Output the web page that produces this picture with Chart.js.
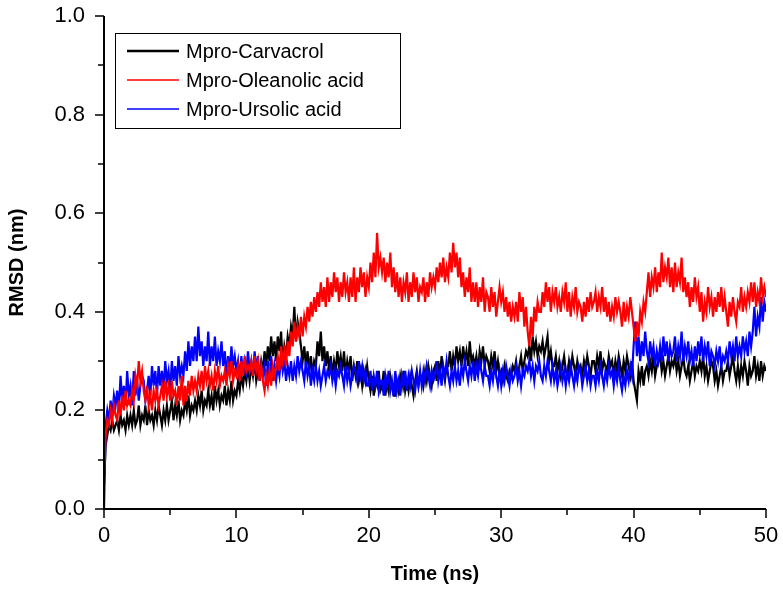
<!DOCTYPE html>
<html>
<head>
<meta charset="utf-8">
<script src="https://cdn.jsdelivr.net/npm/chart.js@4/dist/chart.umd.min.js"></script>
<style>
  html,body{margin:0;padding:0;background:#fff;}
  #wrap{width:783px;height:592px;position:relative;}
</style>
</head>
<body>
<div id="wrap"><canvas id="c" width="783" height="592"></canvas></div>
<script>
// Time step between samples (ns); samples start at 0 ns
const timeStep = 0.125;
const seriesLabels = ["Mpro-Carvacrol", "Mpro-Oleanolic acid", "Mpro-Ursolic acid"];
const xTickLabels = [0, 10, 20, 30, 40, 50];
const yTickLabels = [0.0, 0.2, 0.4, 0.6, 0.8, 1.0];

const carvacrol = [
0.05,0.13,0.15,0.17,0.16,0.18,0.16,0.17, 0.18,0.16,0.19,0.17,0.18,0.16,0.19,0.17,
0.19,0.17,0.20,0.17,0.18,0.21,0.17,0.19, 0.18,0.21,0.17,0.20,0.18,0.19,0.17,0.20,
0.18,0.21,0.19,0.17,0.20,0.18,0.21,0.18, 0.20,0.22,0.18,0.21,0.19,0.22,0.18,0.20,
0.19,0.22,0.20,0.23,0.19,0.21,0.20,0.22, 0.20,0.23,0.21,0.24,0.20,0.22,0.21,0.24,
0.21,0.23,0.20,0.25,0.22,0.24,0.21,0.23, 0.22,0.25,0.21,0.24,0.22,0.26,0.22,0.24,
0.23,0.26,0.24,0.27,0.25,0.28,0.26,0.29, 0.26,0.29,0.27,0.30,0.26,0.28,0.27,0.30,
0.28,0.32,0.29,0.33,0.30,0.35,0.31,0.34, 0.30,0.35,0.32,0.36,0.29,0.33,0.31,0.35,
0.33,0.37,0.35,0.41,0.34,0.38,0.36,0.33, 0.30,0.33,0.29,0.32,0.28,0.31,0.27,0.30,
0.29,0.34,0.31,0.36,0.30,0.33,0.29,0.32, 0.28,0.31,0.27,0.30,0.28,0.32,0.29,0.31,
0.28,0.32,0.27,0.30,0.28,0.31,0.26,0.29, 0.27,0.30,0.26,0.28,0.25,0.28,0.26,0.29,
0.26,0.24,0.27,0.23,0.26,0.25,0.28,0.24, 0.25,0.28,0.23,0.26,0.24,0.27,0.25,0.23,
0.23,0.26,0.24,0.27,0.25,0.28,0.24,0.26, 0.24,0.27,0.25,0.23,0.26,0.28,0.25,0.27,
0.27,0.25,0.28,0.26,0.29,0.27,0.25,0.28, 0.29,0.26,0.30,0.27,0.31,0.28,0.26,0.29,
0.29,0.32,0.28,0.31,0.29,0.33,0.30,0.32, 0.29,0.33,0.30,0.32,0.29,0.34,0.30,0.31,
0.29,0.31,0.28,0.32,0.30,0.33,0.29,0.31, 0.30,0.28,0.31,0.29,0.32,0.28,0.30,0.27,
0.28,0.26,0.29,0.27,0.26,0.28,0.27,0.29, 0.28,0.30,0.27,0.29,0.31,0.28,0.30,0.32,
0.31,0.33,0.30,0.35,0.32,0.34,0.31,0.33, 0.32,0.34,0.31,0.33,0.35,0.30,0.32,0.29,
0.29,0.31,0.28,0.30,0.27,0.29,0.31,0.28, 0.27,0.30,0.28,0.31,0.29,0.27,0.30,0.28,
0.29,0.27,0.30,0.28,0.31,0.29,0.27,0.30, 0.30,0.28,0.31,0.29,0.32,0.28,0.30,0.29,
0.28,0.31,0.29,0.30,0.27,0.30,0.28,0.31, 0.29,0.27,0.30,0.28,0.31,0.29,0.27,0.30,
0.26,0.24,0.22,0.28,0.26,0.29,0.25,0.28, 0.29,0.27,0.30,0.28,0.31,0.27,0.29,0.30,
0.31,0.28,0.30,0.27,0.29,0.31,0.28,0.30, 0.29,0.31,0.28,0.30,0.27,0.29,0.31,0.28,
0.27,0.29,0.26,0.28,0.30,0.27,0.29,0.28, 0.30,0.28,0.31,0.27,0.29,0.26,0.28,0.30,
0.29,0.26,0.28,0.25,0.27,0.29,0.26,0.28, 0.28,0.30,0.27,0.29,0.31,0.28,0.26,0.29,
0.26,0.29,0.27,0.30,0.28,0.25,0.29,0.27, 0.28,0.31,0.27,0.29,0.26,0.30,0.27,0.29,
0.28
];

const oleanolic = [
0.08,0.15,0.18,0.17,0.20,0.18,0.21,0.19, 0.18,0.22,0.19,0.23,0.20,0.24,0.21,0.22,
0.21,0.24,0.22,0.27,0.25,0.30,0.26,0.28, 0.24,0.22,0.25,0.21,0.23,0.20,0.24,0.22,
0.24,0.21,0.23,0.25,0.22,0.26,0.23,0.25, 0.22,0.26,0.23,0.24,0.21,0.25,0.22,0.27,
0.21,0.25,0.22,0.26,0.23,0.27,0.24,0.26, 0.24,0.27,0.25,0.28,0.24,0.29,0.26,0.28,
0.25,0.27,0.24,0.28,0.26,0.29,0.25,0.27, 0.26,0.28,0.25,0.29,0.27,0.30,0.26,0.28,
0.27,0.29,0.26,0.30,0.27,0.31,0.28,0.29, 0.28,0.30,0.27,0.31,0.28,0.30,0.26,0.29,
0.26,0.24,0.27,0.25,0.28,0.25,0.29,0.27, 0.29,0.31,0.28,0.33,0.30,0.32,0.29,0.34,
0.31,0.36,0.33,0.38,0.34,0.37,0.35,0.39, 0.35,0.39,0.37,0.41,0.38,0.42,0.39,0.43,
0.40,0.44,0.41,0.46,0.42,0.45,0.41,0.47, 0.42,0.46,0.43,0.48,0.44,0.47,0.42,0.46,
0.43,0.48,0.44,0.46,0.42,0.47,0.43,0.49, 0.42,0.47,0.44,0.49,0.45,0.48,0.43,0.47,
0.45,0.50,0.46,0.52,0.47,0.56,0.49,0.51, 0.48,0.51,0.46,0.50,0.47,0.52,0.45,0.49,
0.44,0.48,0.43,0.47,0.42,0.46,0.44,0.48, 0.42,0.46,0.43,0.48,0.44,0.47,0.42,0.45,
0.44,0.47,0.42,0.46,0.43,0.48,0.45,0.47, 0.45,0.49,0.46,0.50,0.47,0.51,0.46,0.49,
0.47,0.52,0.48,0.54,0.49,0.52,0.47,0.51, 0.45,0.48,0.43,0.47,0.44,0.49,0.42,0.46,
0.42,0.46,0.41,0.45,0.42,0.47,0.40,0.44, 0.43,0.40,0.45,0.41,0.44,0.39,0.42,0.45,
0.42,0.44,0.40,0.43,0.39,0.42,0.38,0.41, 0.39,0.42,0.38,0.44,0.40,0.43,0.37,0.41,
0.36,0.33,0.39,0.35,0.41,0.38,0.42,0.40, 0.40,0.44,0.41,0.46,0.42,0.45,0.40,0.44,
0.42,0.45,0.41,0.43,0.40,0.44,0.42,0.46, 0.40,0.44,0.39,0.43,0.41,0.45,0.40,0.42,
0.41,0.38,0.42,0.39,0.43,0.40,0.44,0.41, 0.42,0.44,0.40,0.43,0.41,0.45,0.40,0.43,
0.39,0.42,0.38,0.41,0.39,0.43,0.40,0.42, 0.40,0.37,0.42,0.38,0.41,0.39,0.43,0.40,
0.37,0.34,0.38,0.35,0.40,0.38,0.42,0.40, 0.44,0.48,0.43,0.47,0.45,0.49,0.44,0.48,
0.45,0.52,0.46,0.49,0.47,0.51,0.45,0.49, 0.44,0.50,0.45,0.48,0.46,0.51,0.44,0.47,
0.43,0.46,0.41,0.45,0.42,0.47,0.43,0.45, 0.40,0.44,0.38,0.42,0.40,0.45,0.41,0.43,
0.39,0.43,0.40,0.44,0.41,0.45,0.40,0.43, 0.40,0.37,0.42,0.39,0.43,0.40,0.38,0.42,
0.41,0.45,0.40,0.43,0.41,0.44,0.42,0.46, 0.42,0.46,0.41,0.44,0.42,0.47,0.43,0.45,
0.43
];

const ursolic = [
0.00,0.17,0.20,0.18,0.22,0.19,0.23,0.21, 0.24,0.20,0.27,0.22,0.25,0.21,0.28,0.23,
0.25,0.21,0.28,0.23,0.26,0.22,0.25,0.27, 0.26,0.22,0.24,0.27,0.23,0.29,0.25,0.28,
0.23,0.29,0.25,0.28,0.24,0.30,0.26,0.28, 0.24,0.30,0.26,0.29,0.25,0.31,0.27,0.29,
0.27,0.32,0.28,0.34,0.29,0.33,0.30,0.35, 0.30,0.37,0.31,0.34,0.29,0.33,0.30,0.36,
0.29,0.33,0.30,0.35,0.29,0.32,0.30,0.34, 0.29,0.32,0.27,0.31,0.28,0.33,0.29,0.31,
0.28,0.30,0.26,0.31,0.27,0.30,0.28,0.32, 0.28,0.30,0.27,0.32,0.28,0.31,0.26,0.29,
0.27,0.29,0.25,0.30,0.27,0.31,0.26,0.29, 0.26,0.29,0.27,0.31,0.28,0.30,0.26,0.29,
0.27,0.30,0.26,0.29,0.27,0.31,0.28,0.30, 0.28,0.26,0.30,0.27,0.29,0.25,0.28,0.26,
0.29,0.26,0.28,0.25,0.27,0.29,0.26,0.28, 0.27,0.29,0.26,0.28,0.25,0.28,0.27,0.29,
0.27,0.25,0.29,0.26,0.28,0.25,0.27,0.29, 0.28,0.26,0.30,0.27,0.29,0.26,0.28,0.25,
0.25,0.28,0.24,0.27,0.25,0.28,0.24,0.26, 0.26,0.23,0.27,0.25,0.28,0.24,0.26,0.23,
0.28,0.24,0.26,0.23,0.27,0.25,0.28,0.24, 0.27,0.25,0.28,0.26,0.24,0.27,0.25,0.28,
0.25,0.28,0.26,0.29,0.27,0.25,0.28,0.26, 0.27,0.30,0.26,0.28,0.25,0.29,0.27,0.30,
0.27,0.25,0.28,0.26,0.29,0.26,0.28,0.25, 0.29,0.27,0.30,0.28,0.26,0.29,0.27,0.30,
0.26,0.29,0.27,0.30,0.28,0.26,0.29,0.27, 0.27,0.25,0.28,0.26,0.29,0.27,0.25,0.28,
0.25,0.28,0.26,0.29,0.27,0.25,0.28,0.26, 0.27,0.29,0.26,0.28,0.25,0.28,0.27,0.29,
0.28,0.30,0.27,0.29,0.26,0.29,0.28,0.30, 0.27,0.26,0.29,0.27,0.30,0.28,0.26,0.29,
0.26,0.28,0.25,0.27,0.29,0.26,0.28,0.25, 0.28,0.26,0.29,0.27,0.25,0.28,0.26,0.29,
0.28,0.25,0.27,0.29,0.26,0.28,0.25,0.27, 0.27,0.25,0.28,0.26,0.29,0.27,0.25,0.28,
0.26,0.29,0.27,0.28,0.25,0.28,0.26,0.29, 0.26,0.24,0.27,0.25,0.28,0.26,0.29,0.27,
0.33,0.38,0.31,0.35,0.30,0.34,0.31,0.36, 0.32,0.30,0.34,0.31,0.33,0.29,0.32,0.30,
0.33,0.30,0.35,0.31,0.34,0.30,0.33,0.31, 0.32,0.35,0.30,0.33,0.31,0.36,0.30,0.33,
0.31,0.34,0.30,0.32,0.29,0.33,0.30,0.34, 0.31,0.35,0.30,0.33,0.31,0.34,0.29,0.32,
0.31,0.29,0.32,0.30,0.33,0.29,0.31,0.30, 0.32,0.30,0.34,0.31,0.33,0.30,0.35,0.31,
0.33,0.31,0.35,0.32,0.34,0.31,0.36,0.33, 0.36,0.41,0.35,0.39,0.37,0.43,0.38,0.42,
0.40
];

const seriesColors = ["#000000", "#ff0000", "#0000ff"];

function toPoints(arr) {
  return arr.map((v, i) => ({ x: i * timeStep, y: v }));
}

const FONT = "'Liberation Sans', Arial, sans-serif";

const axisPlugin = {
  id: 'axisTicks',
  afterDraw(chart) {
    const ctx = chart.ctx;
    const xs = chart.scales.x, ys = chart.scales.y;
    const a = chart.chartArea;
    ctx.save();
    ctx.strokeStyle = '#000';
    ctx.lineWidth = 2;
    ctx.beginPath();
    ctx.moveTo(a.left, a.top);
    ctx.lineTo(a.left, a.bottom);
    ctx.lineTo(a.right, a.bottom);
    ctx.stroke();
    ctx.lineWidth = 1.5;
    for (let v = 0; v <= 50; v += 5) {
      const px = Math.round(xs.getPixelForValue(v));
      const len = (v % 10 === 0) ? 9 : 6;
      ctx.beginPath();
      ctx.moveTo(px, a.bottom);
      ctx.lineTo(px, a.bottom + len);
      ctx.stroke();
    }
    for (let k = 0; k <= 10; k++) {
      const py = Math.round(ys.getPixelForValue(k / 10));
      const len = (k % 2 === 0) ? 9 : 6;
      ctx.beginPath();
      ctx.moveTo(a.left, py);
      ctx.lineTo(a.left - len, py);
      ctx.stroke();
    }
    // legend box
    const bx = 115, by = 33, bw = 285, bh = 95;
    ctx.fillStyle = '#fff';
    ctx.fillRect(bx, by, bw, bh);
    ctx.lineWidth = 1;
    ctx.strokeStyle = '#000';
    ctx.strokeRect(bx + 0.5, by + 0.5, bw, bh);
    ctx.font = "20px " + FONT;
    ctx.textBaseline = 'middle';
    ctx.textAlign = 'left';
    seriesLabels.forEach((lab, i) => {
      const yy = 51 + i * 29;
      ctx.strokeStyle = seriesColors[i];
      ctx.lineWidth = i === 0 ? 2.5 : 1.5;
      ctx.beginPath();
      ctx.moveTo(127, yy);
      ctx.lineTo(179, yy);
      ctx.stroke();
      ctx.fillStyle = '#000';
      ctx.fillText(lab, 186, yy + 1);
    });
    ctx.restore();
  }
};

new Chart(document.getElementById('c'), {
  type: 'line',
  data: {
    datasets: [
      { label: seriesLabels[0], data: toPoints(carvacrol), borderColor: seriesColors[0], order: 2 },
      { label: seriesLabels[1], data: toPoints(oleanolic), borderColor: seriesColors[1], order: 0 },
      { label: seriesLabels[2], data: toPoints(ursolic), borderColor: seriesColors[2], order: 1 }
    ]
  },
  options: {
    responsive: false,
    animation: false,
    devicePixelRatio: 1,
    layout: { padding: { top: 16, right: 17, left: 0, bottom: 0 } },
    elements: {
      line: { borderWidth: 2.2, tension: 0, fill: false, borderJoinStyle: 'miter' },
      point: { radius: 0 }
    },
    plugins: { legend: { display: false }, tooltip: { enabled: false } },
    scales: {
      x: {
        type: 'linear', min: 0, max: 50,
        afterFit(s) { s.height = 83; s.paddingLeft = 0; s.paddingRight = 0; },
        afterBuildTicks(s) { s.ticks = xTickLabels.map(v => ({ value: v })); },
        grid: { display: false, drawTicks: false },
        border: { display: false },
        ticks: { color: '#000', padding: 14, maxRotation: 0, font: { family: FONT, size: 22 } },
        title: { display: true, text: 'Time (ns)', color: '#000', padding: { top: 0, bottom: 6 }, font: { family: FONT, size: 20, weight: 'bold' } }
      },
      y: {
        type: 'linear', min: 0, max: 1.0,
        afterFit(s) { s.width = 104; s.paddingTop = 0; s.paddingBottom = 0; },
        afterBuildTicks(s) { s.ticks = yTickLabels.map(v => ({ value: v })); },
        grid: { display: false, drawTicks: false },
        border: { display: false },
        ticks: { color: '#000', padding: 19, font: { family: FONT, size: 22 }, callback: v => v.toFixed(1) },
        title: { display: true, text: 'RMSD (nm)', color: '#000', padding: { top: 5, bottom: 0 }, font: { family: FONT, size: 20, weight: 'bold' } }
      }
    }
  },
  plugins: [axisPlugin]
});
</script>
</body>
</html>
